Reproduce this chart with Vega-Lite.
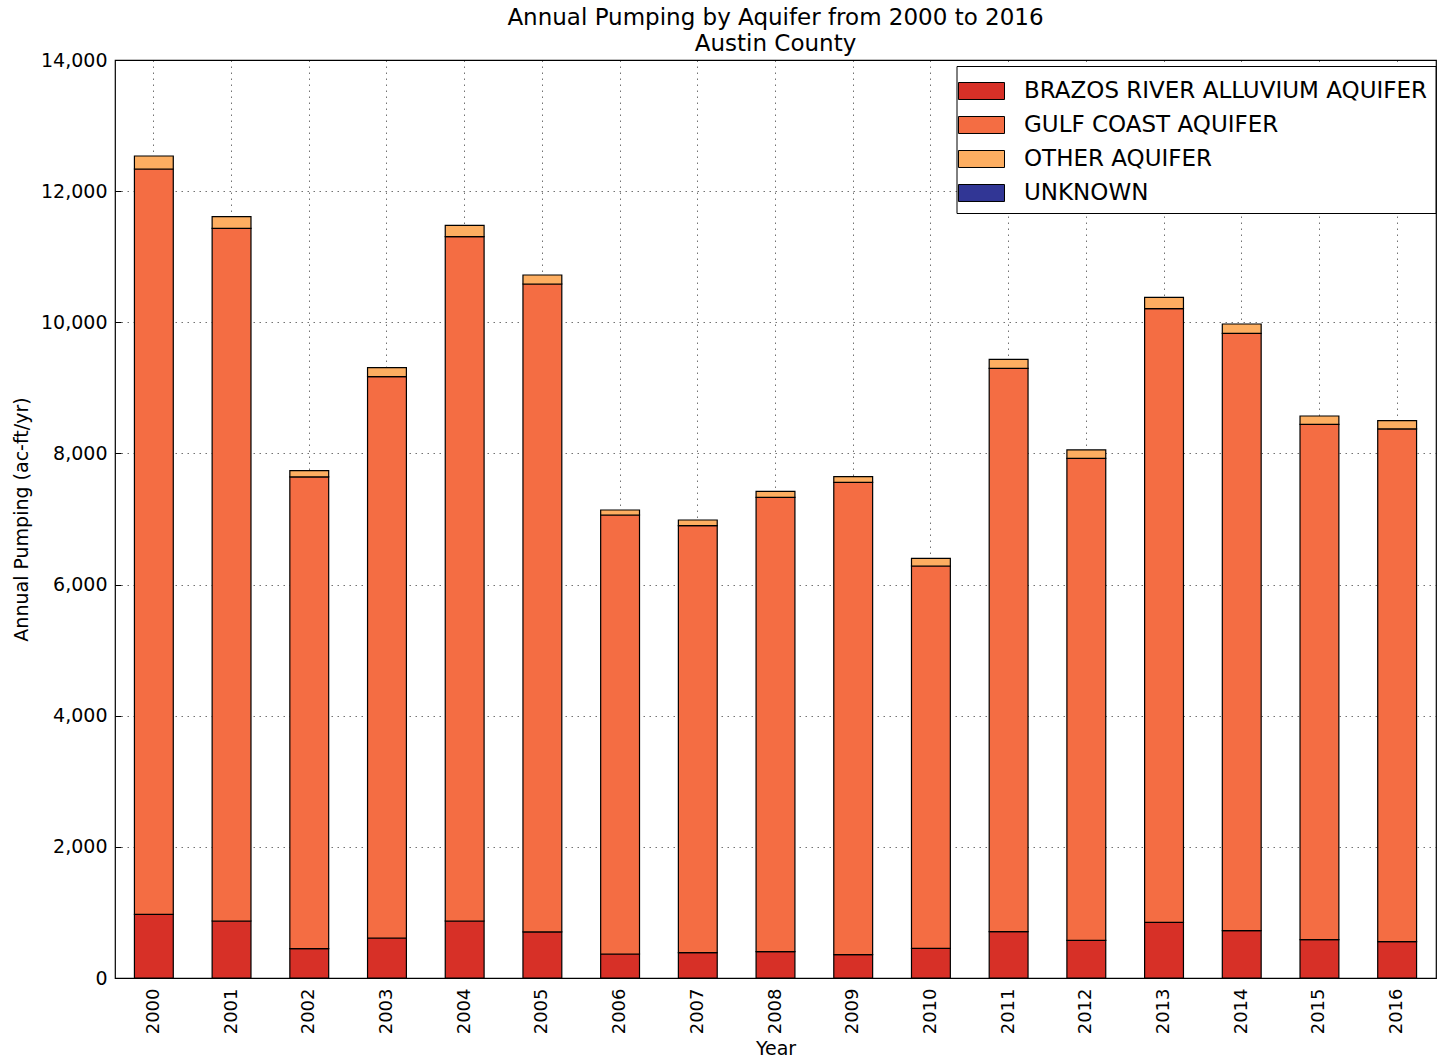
{
  "$schema": "https://vega.github.io/schema/vega-lite/v6.json",
  "autosize": {"type": "none"},
  "padding": {"left": 115, "top": 60, "right": 1, "bottom": 82},
  "width": 1321,
  "height": 918,
  "background": "white",
  "title": {
    "text": ["Annual Pumping by Aquifer from 2000 to 2016", "Austin County"],
    "font": "DejaVu Sans",
    "fontSize": 23,
    "fontWeight": "normal",
    "color": "#000",
    "anchor": "middle",
    "lineHeight": 26,
    "offset": -5
  },
  "config": {
    "view": {"stroke": "#000", "strokeWidth": 1.2},
    "axis": {
      "labelFont": "DejaVu Sans",
      "titleFont": "DejaVu Sans",
      "labelFontSize": 19,
      "titleFontSize": 19,
      "titleFontWeight": "normal",
      "labelColor": "#000",
      "titleColor": "#000",
      "domain": false,
      "tickColor": "#000",
      "gridColor": "#000",
      "gridOpacity": 0.55,
      "gridDash": [1.5, 4.5],
      "gridWidth": 1
    }
  },
  "data": {
    "values": [
      {"year": "2000", "aquifer": "BRAZOS RIVER ALLUVIUM AQUIFER", "ord": 1, "value": 971},
      {"year": "2000", "aquifer": "GULF COAST AQUIFER", "ord": 2, "value": 11367},
      {"year": "2000", "aquifer": "OTHER AQUIFER", "ord": 3, "value": 198},
      {"year": "2001", "aquifer": "BRAZOS RIVER ALLUVIUM AQUIFER", "ord": 1, "value": 869},
      {"year": "2001", "aquifer": "GULF COAST AQUIFER", "ord": 2, "value": 10564},
      {"year": "2001", "aquifer": "OTHER AQUIFER", "ord": 3, "value": 177},
      {"year": "2002", "aquifer": "BRAZOS RIVER ALLUVIUM AQUIFER", "ord": 1, "value": 447},
      {"year": "2002", "aquifer": "GULF COAST AQUIFER", "ord": 2, "value": 7194},
      {"year": "2002", "aquifer": "OTHER AQUIFER", "ord": 3, "value": 96},
      {"year": "2003", "aquifer": "BRAZOS RIVER ALLUVIUM AQUIFER", "ord": 1, "value": 610},
      {"year": "2003", "aquifer": "GULF COAST AQUIFER", "ord": 2, "value": 8560},
      {"year": "2003", "aquifer": "OTHER AQUIFER", "ord": 3, "value": 138},
      {"year": "2004", "aquifer": "BRAZOS RIVER ALLUVIUM AQUIFER", "ord": 1, "value": 869},
      {"year": "2004", "aquifer": "GULF COAST AQUIFER", "ord": 2, "value": 10437},
      {"year": "2004", "aquifer": "OTHER AQUIFER", "ord": 3, "value": 173},
      {"year": "2005", "aquifer": "BRAZOS RIVER ALLUVIUM AQUIFER", "ord": 1, "value": 702},
      {"year": "2005", "aquifer": "GULF COAST AQUIFER", "ord": 2, "value": 9882},
      {"year": "2005", "aquifer": "OTHER AQUIFER", "ord": 3, "value": 137},
      {"year": "2006", "aquifer": "BRAZOS RIVER ALLUVIUM AQUIFER", "ord": 1, "value": 366},
      {"year": "2006", "aquifer": "GULF COAST AQUIFER", "ord": 2, "value": 6695},
      {"year": "2006", "aquifer": "OTHER AQUIFER", "ord": 3, "value": 76},
      {"year": "2007", "aquifer": "BRAZOS RIVER ALLUVIUM AQUIFER", "ord": 1, "value": 386},
      {"year": "2007", "aquifer": "GULF COAST AQUIFER", "ord": 2, "value": 6512},
      {"year": "2007", "aquifer": "OTHER AQUIFER", "ord": 3, "value": 87},
      {"year": "2008", "aquifer": "BRAZOS RIVER ALLUVIUM AQUIFER", "ord": 1, "value": 401},
      {"year": "2008", "aquifer": "GULF COAST AQUIFER", "ord": 2, "value": 6930},
      {"year": "2008", "aquifer": "OTHER AQUIFER", "ord": 3, "value": 91},
      {"year": "2009", "aquifer": "BRAZOS RIVER ALLUVIUM AQUIFER", "ord": 1, "value": 355},
      {"year": "2009", "aquifer": "GULF COAST AQUIFER", "ord": 2, "value": 7205},
      {"year": "2009", "aquifer": "OTHER AQUIFER", "ord": 3, "value": 86},
      {"year": "2010", "aquifer": "BRAZOS RIVER ALLUVIUM AQUIFER", "ord": 1, "value": 453},
      {"year": "2010", "aquifer": "GULF COAST AQUIFER", "ord": 2, "value": 5830},
      {"year": "2010", "aquifer": "OTHER AQUIFER", "ord": 3, "value": 117},
      {"year": "2011", "aquifer": "BRAZOS RIVER ALLUVIUM AQUIFER", "ord": 1, "value": 706},
      {"year": "2011", "aquifer": "GULF COAST AQUIFER", "ord": 2, "value": 8592},
      {"year": "2011", "aquifer": "OTHER AQUIFER", "ord": 3, "value": 137},
      {"year": "2012", "aquifer": "BRAZOS RIVER ALLUVIUM AQUIFER", "ord": 1, "value": 575},
      {"year": "2012", "aquifer": "GULF COAST AQUIFER", "ord": 2, "value": 7351},
      {"year": "2012", "aquifer": "OTHER AQUIFER", "ord": 3, "value": 127},
      {"year": "2013", "aquifer": "BRAZOS RIVER ALLUVIUM AQUIFER", "ord": 1, "value": 849},
      {"year": "2013", "aquifer": "GULF COAST AQUIFER", "ord": 2, "value": 9359},
      {"year": "2013", "aquifer": "OTHER AQUIFER", "ord": 3, "value": 173},
      {"year": "2014", "aquifer": "BRAZOS RIVER ALLUVIUM AQUIFER", "ord": 1, "value": 722},
      {"year": "2014", "aquifer": "GULF COAST AQUIFER", "ord": 2, "value": 9110},
      {"year": "2014", "aquifer": "OTHER AQUIFER", "ord": 3, "value": 142},
      {"year": "2015", "aquifer": "BRAZOS RIVER ALLUVIUM AQUIFER", "ord": 1, "value": 585},
      {"year": "2015", "aquifer": "GULF COAST AQUIFER", "ord": 2, "value": 7859},
      {"year": "2015", "aquifer": "OTHER AQUIFER", "ord": 3, "value": 127},
      {"year": "2016", "aquifer": "BRAZOS RIVER ALLUVIUM AQUIFER", "ord": 1, "value": 554},
      {"year": "2016", "aquifer": "GULF COAST AQUIFER", "ord": 2, "value": 7819},
      {"year": "2016", "aquifer": "OTHER AQUIFER", "ord": 3, "value": 127}
    ]
  },
  "mark": {"type": "bar", "stroke": "#000", "strokeWidth": 1.2},
  "encoding": {
    "x": {
      "field": "year",
      "type": "ordinal",
      "scale": {"paddingInner": 0.5, "paddingOuter": 0.25},
      "axis": {
        "title": "Year",
        "labelAngle": 270,
        "labelFontSize": 18,
        "grid": true,
        "bandPosition": 0.5,
        "tickSize": -6,
        "labelPadding": 16,
        "titlePadding": 6
      }
    },
    "y": {
      "field": "value",
      "type": "quantitative",
      "stack": "zero",
      "scale": {"domain": [0, 14000], "nice": false},
      "axis": {
        "title": "Annual Pumping (ac-ft/yr)",
        "format": ",.0f",
        "values": [0, 2000, 4000, 6000, 8000, 10000, 12000, 14000],
        "grid": true,
        "tickSize": -6,
        "labelPadding": 14,
        "titlePadding": 9
      }
    },
    "order": {"field": "ord", "type": "quantitative"},
    "color": {
      "field": "aquifer",
      "type": "nominal",
      "scale": {
        "domain": ["BRAZOS RIVER ALLUVIUM AQUIFER", "GULF COAST AQUIFER", "OTHER AQUIFER", "UNKNOWN"],
        "range": ["#d73027", "#f46d43", "#fdae61", "#313695"]
      },
      "legend": {
        "title": null,
        "orient": "none",
        "legendX": 841.5,
        "legendY": 6,
        "fillColor": "#fff",
        "strokeColor": "#000",
        "padding": 8,
        "symbolType": "M-1.394,-0.515H1.394V0.515H-1.394Z",
        "symbolSize": 1089,
        "symbolStrokeColor": "#000",
        "symbolStrokeWidth": 1,
        "symbolOpacity": 1,
        "labelFont": "DejaVu Sans",
        "labelFontSize": 23,
        "labelColor": "#000",
        "labelOffset": 25.5,
        "rowPadding": 5,
        "labelLimit": 600
      }
    }
  }
}
